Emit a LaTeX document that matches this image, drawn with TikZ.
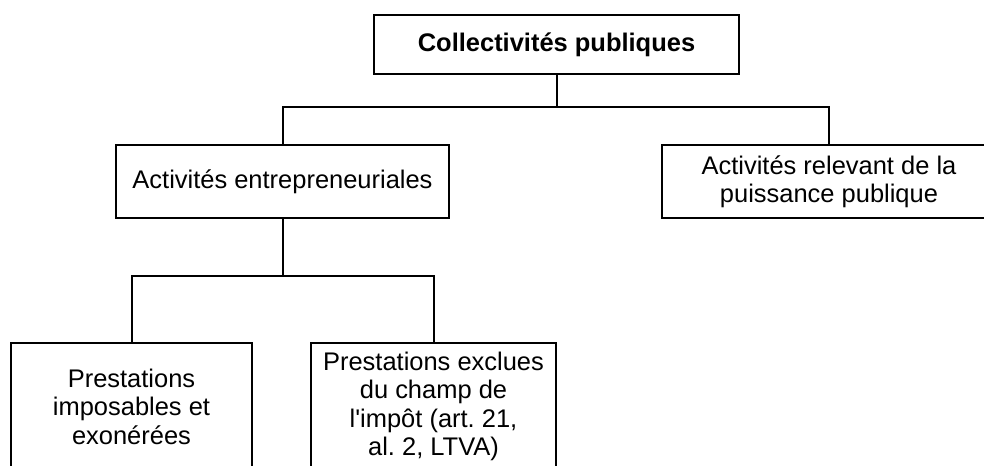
\documentclass[tikz,border=0pt]{standalone}
\usepackage{fontspec}
\setmainfont{Liberation Sans}
\frenchspacing
\begin{document}
\begin{tikzpicture}[x=0.75pt,y=-0.75pt,
  box/.style={draw=black,line width=1.5pt,fill=white,inner sep=0pt,align=center,
    font=\fontsize{19.1pt}{21.4pt}\selectfont},
  link/.style={draw=black,line width=1.5pt}]
  \clip (0,0) rectangle (984,466);

  % boxes
  \node[box,font=\fontsize{19.1pt}{21.4pt}\selectfont\bfseries,
        minimum width=273.75pt,minimum height=44.25pt] (top) at (556.5,44.5) {Collectivités publiques};
  \node[box,minimum width=249.75pt,minimum height=54.75pt] (ent) at (282.5,181.5) {Activités entrepreneuriales};
  \node[box,minimum width=250.5pt,minimum height=54.75pt] (pub) at (829,182) {Activités relevant de la\\puissance publique};
  \node[box,minimum width=180.75pt,minimum height=95.25pt] (imp) at (131.5,406.5) {Prestations\\imposables et\\exonérées};
  \node[box,minimum width=183.75pt,minimum height=95.25pt] (exc) at (433.5,406.5) {Prestations exclues\\du champ de\\l\textquotesingle impôt (art. 21,\\al. 2, LTVA)};

  % junction points of the tree
  \coordinate (j1) at (556.5,107);
  \coordinate (j2) at (282.5,276);

  % connectors
  \draw[link] (top.south) -- (j1);
  \draw[link] (ent.north) |- (j1) -| (pub.north);
  \draw[link] (ent.south) -- (j2);
  \draw[link] (imp.north) |- (j2) -| (exc.north);
\end{tikzpicture}
\end{document}
